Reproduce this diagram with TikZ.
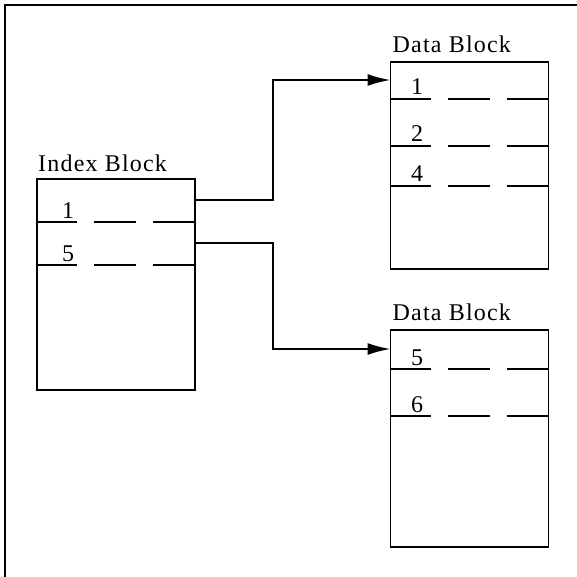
\documentclass[tikz,border=0pt]{standalone}
\usepackage{fontspec}
\setmainfont{Liberation Serif}
\usepackage{tikz}
\usetikzlibrary{arrows.meta,positioning}

\begin{document}
\begin{tikzpicture}[x=1pt, y=-1pt, line cap=butt, line join=miter,
    every node/.style={font=\fontsize{24}{27}\selectfont\addfontfeature{LetterSpace=5}},
    block/.style={draw, line width=1.9pt, inner sep=0pt, outer sep=0pt, minimum width=158pt},
    sep/.style={line width=1.9pt, dash pattern=on 40pt off 17pt on 42pt off 17pt on 42pt},
    num/.style={anchor=base, inner sep=0pt},
    lbl/.style={anchor=base west, inner sep=0pt},
    ptr/.style={line width=1.9pt, -{Latex[length=23pt,width=12pt]}}]
    \useasboundingbox (0,0) rectangle (577,577);

    % outer frame (top and left edge only)
    \draw[line width=1.9pt] (5,577) -- (5,5) -- (577,5);

    % the three blocks
    \node[block, minimum height=211pt] (idx) at (116,284.5) {};
    \node[block, minimum height=207pt] (blkA) at (469.5,165.5) {};
    \node[block, minimum height=217pt] (blkB) at (469.5,438.5) {};

    \node[lbl] (idxlbl) at ([xshift=1pt,yshift=7pt]idx.north west) {Index Block};
    \node[lbl] (blkAlbl) at ([xshift=2pt,yshift=9pt]blkA.north west) {Data Block};
    \node[lbl] (blkBlbl) at ([xshift=2pt,yshift=10pt]blkB.north west) {Data Block};

    % entries
    \foreach \k/\y in {1/222,5/265}{
        \draw[sep] (idx.west |- 0,\y) -- (idx.east |- 0,\y);
        \node[num] at (68,\y-4) {\k};
    }
    \foreach \k/\y in {1/99,2/146,4/186}{
        \draw[sep] (blkA.west |- 0,\y) -- (blkA.east |- 0,\y);
        \node[num] at (417,\y-4) {\k};
    }
    \foreach \k/\y in {5/369,6/416}{
        \draw[sep] (blkB.west |- 0,\y) -- (blkB.east |- 0,\y);
        \node[num] at (417,\y-4) {\k};
    }

    % pointers from the index to the data blocks
    \draw[ptr] ([yshift=-21pt]idx.north east) -- ++(78,0) |- ([yshift=-18pt]blkA.north west);
    \draw[ptr] ([yshift=-64pt]idx.north east) -- ++(78,0) |- ([yshift=-19pt]blkB.north west);

\end{tikzpicture}
\end{document}
